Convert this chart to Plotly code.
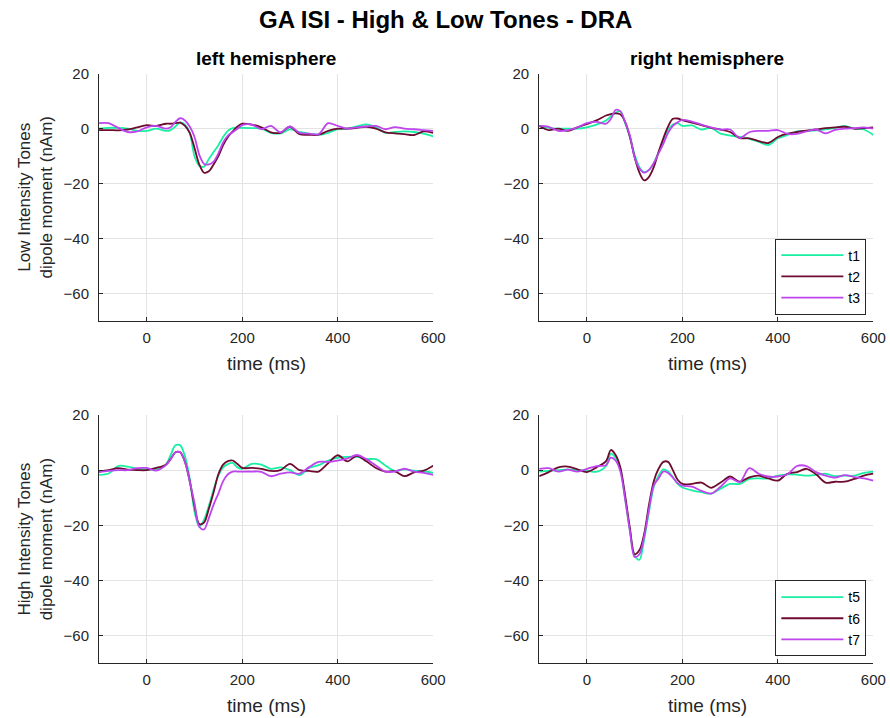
import plotly.graph_objects as go

# ---------------- data ----------------
time_ms = [-100, -80, -60, -40, -20, 0, 20, 40,
           50, 60, 70, 80, 90, 100, 110, 120, 130, 140, 150, 160, 170, 180, 190, 200,
           220, 240, 260, 280, 300, 320, 340, 360, 380, 400, 420, 440, 460, 480, 500,
           520, 540, 560, 580, 600]

# Low intensity tones, left hemisphere
low_left_t1 = [0, 0.3, 0.3, 0, -0.8, -0.8, 0, -0.8,
               -0.5, 0.8, 2.3, 1.5, -1.5, -10, -13.5, -13.8, -11, -8.5, -6, -3, -0.8, 0.2, 0.3, 0.3,
               0.2, 0, -1.5, -1.7, -0.2, -1.2, -1.8, -2.2, -1.5, -0.2, 0, 0.8, 1.6, 0.5, -1.5,
               -1.2, -1, -1.2, -1.8, -2.8]
low_left_t2 = [-0.5, -0.5, -0.6, -0.3, 0.5, 1.3, 1.0, 1.8,
               1.8, 2.0, 2.2, 1.0, -1.5, -7, -13, -16, -15.5, -13, -10, -6, -3, -1, 0.8, 1.8,
               1.5, 0.5, -1.3, -1.5, 0.7, -2, -2.2, -2.2, -0.8, 0, 0, 0.3, 0.7, 0, -1.3,
               -1.7, -2, -2.3, -1, -1.5]
low_left_t3 = [2.0, 2.0, 0.3, -1.2, -1.0, 0.5, 1.0, 0,
               0.5, 2.5, 3.8, 3.0, 0.8, -3, -9.5, -12.8, -13, -12, -9, -5, -2.5, -1.3, 0, 1.3,
               1.5, -0.2, 1, -1.3, 0.8, -1.5, -1.8, -2, 2, 1, 0, 0.5, 0.8, 1.0, -0.2,
               0.6, 0, -0.2, -0.5, -0.8]

# Low intensity tones, right hemisphere
low_right_t1 = [1, 0.3, 0, 0, 0, 0.5, 1.5, 3.0,
                4.5, 5.8, 6.3, 2, -3, -9.5, -14, -15.8, -15, -12.5, -8.5, -4.5, -0.5, 1.5, 2, 1,
                1.2, -0.3, 0.3, -1.8, -2.5, -3, -3.7, -4.8, -6, -3.5, -2.3, -1, -0.8, -0.6, -0.2,
                0.3, 1, 0, -0.3, -2.3]
low_right_t2 = [1, -0.5, 0, -0.8, 0.5, 1.7, 3, 4.8,
                5.3, 5.6, 5.2, 2.5, -3, -10.5, -16, -18.8, -17.5, -14, -8.5, -3.5, 0.8, 3.6, 3.7, 3.1,
                2.2, 1.3, 0.3, -0.3, -1.2, -3.4, -3.5, -4.5, -5.2, -3, -1.8, -1.2, -0.7, -0.3, 0.2,
                0.5, 0.7, 0, 0.2, 0.5]
low_right_t3 = [1, 0.7, -0.8, -0.5, 0.5, 2.0, 2.5, 1.8,
                3.5, 6.8, 6.3, 2.5, -2.5, -10.5, -14.5, -16, -15, -12.5, -9, -5.5, -1.5, 1, 2.3, 3.2,
                2.6, 1.5, 0.5, -0.3, -0.3, -3.4, -1.3, -0.8, -0.8, -0.5, -1.9, -1.9, -1, -0.3, -1.7,
                -0.4, 0, 0.2, 0.5, 0]

# High intensity tones, left hemisphere
high_left_t5 = [-1.7, -1.2, 1.5, 1.3, 0.5, 0.3, 0.3, 2,
                5.5, 9, 9, 5, -3, -15, -20.5, -18, -13, -7, -2, 1, 2.2, 2.6, 1, 0.5,
                2.3, 2.0, 0.5, 1.0, 0, -1.8, 0.8, 1.8, 3.5, 4.5, 4.8, 4.8, 4.0, 4.0, 1.7,
                -0.3, 0.3, -0.2, -0.4, -1]
high_left_t6 = [-0.5, 0, 0.7, 0.2, 0, 0, 0.8, 2,
                4, 6.5, 6.5, 3, -4, -13, -19.5, -19, -14, -8, -1.5, 2, 3.3, 3.5, 2.2, 0.8,
                0.8, 0.5, -0.3, 0, 2.3, 0, -0.3, -0.5, 2.5, 5.4, 3.2, 5.2, 3.2, 0.8, -0.5,
                -0.4, -2.2, -0.8, -0.2, 1.6]
high_left_t7 = [-0.7, -0.3, 0, 0, 0.7, 0.8, -0.2, 1.8,
                4, 6.5, 6.5, 3, -4, -12, -20.5, -21.5, -17.4, -12.5, -8.5, -4, -1.5, -0.5, -0.5, -0.5,
                -0.5, -0.6, -2.2, -1.3, -0.8, -1.3, 1.1, 3, 3, 3.5, 4.2, 5.5, 4, 1.7, -0.5,
                -0.5, 0.5, -0.5, -1, -1.7]

# High intensity tones, right hemisphere
high_right_t5 = [-0.5, -0.3, 0, 0.3, 0, -0.2, -0.6, 1.5,
                 6.0, 4.5, 0.5, -10.5, -22, -31, -32.5, -25, -15, -6, -2, 0.3, -0.5, -2.5, -5, -6.3,
                 -7.3, -8, -8.5, -6.7, -5, -5, -3.2, -3, -3, -2, -1.5, -1.6, -2, -1.7, -1.3,
                 -2.2, -2, -2, -1, -0.5]
high_right_t6 = [-2.2, -0.7, 1, 1.3, 0.3, -0.7, 1, 3.3,
                 7.3, 5.5, 1, -9.2, -21, -30.5, -29, -23, -12.5, -4, 0.5, 3, 3, 0, -3.5, -5,
                 -5, -4.5, -6.4, -4.5, -2.3, -4.2, -2.6, -2, -3, -3.8, -1.3, -0.7, 0.5, -1.5, -4.5,
                 -4.2, -4.2, -3.2, -2, -1.3]
high_right_t7 = [0.5, 0.7, -0.5, 0.2, -0.5, 0.5, 1.5, 1.8,
                 4.5, 3.5, -0.5, -10.5, -22, -31.5, -30.5, -24, -14, -5.5, -3, -0.5, -1, -2.7, -4.7, -5.6,
                 -6, -7.5, -8.5, -6, -3, -4.3, 0.7, -1.3, -2.3, -2.3, -1.5, 1.5, 1.5, -0.7, -2,
                 -2.7, -1.8, -2.5, -3, -3.8]

x_ticks = [0, 200, 400, 600]
y_ticks = [-60, -40, -20, 0, 20]
colors = ["#18EFA3", "#6E0B30", "#BE44EE"]

FONT = "Liberation Sans, Arial, Helvetica, sans-serif"
INK = "#262626"

# ---------------- figure ----------------
W, H = 890, 718
SCALE = 0.985   # observed render scale of the page
YOFF = 8.0      # observed vertical offset of the page

fig = go.Figure()

panels = [
    ("x", "y", [low_left_t1, low_left_t2, low_left_t3], ["t1", "t2", "t3"], None),
    ("x2", "y2", [low_right_t1, low_right_t2, low_right_t3], ["t1", "t2", "t3"], "legend"),
    ("x3", "y3", [high_left_t5, high_left_t6, high_left_t7], ["t5", "t6", "t7"], None),
    ("x4", "y4", [high_right_t5, high_right_t6, high_right_t7], ["t5", "t6", "t7"], "legend2"),
]

for xa, ya, series, names, leg in panels:
    for s, name, c in zip(series, names, colors):
        fig.add_trace(go.Scatter(
            x=time_ms, y=s, mode="lines", name=name,
            line=dict(color=c, width=1.8, shape="spline", smoothing=0.9),
            xaxis=xa, yaxis=ya,
            showlegend=leg is not None,
            legend=leg if leg else "legend",
            hoverinfo="skip",
        ))


def px_x(p):
    return (p / SCALE) / W


def px_y(p):
    return 1 - ((p - YOFF) / SCALE) / H


xdom_left = [px_x(99), px_x(433)]
xdom_right = [px_x(539), px_x(873)]
ydom_top = [px_y(319.5), px_y(72.5)]
ydom_bot = [px_y(660.5), px_y(413)]

axis_common = dict(
    showgrid=True, gridcolor="#e3e3e3", gridwidth=1,
    zeroline=False, showline=True, linecolor=INK, linewidth=1,
    ticks="inside", ticklen=4, tickcolor=INK, mirror=False,
    tickfont=dict(family=FONT, size=15, color=INK),
)

xcfg = dict(range=[-100, 600], tickvals=x_ticks, ticklabelstandoff=3, **axis_common)
ycfg = dict(range=[-70, 20], tickvals=y_ticks, ticklabelstandoff=6, **axis_common)

legend_style = dict(xanchor="right", yanchor="top",
                    bgcolor="white", bordercolor=INK, borderwidth=1,
                    font=dict(family=FONT, size=14, color="black"),
                    itemwidth=62, tracegroupgap=0)

fig.update_layout(
    width=W, height=H,
    margin=dict(l=0, r=0, t=0, b=0),
    paper_bgcolor="white", plot_bgcolor="white",
    xaxis=dict(domain=xdom_left, anchor="y", **xcfg),
    yaxis=dict(domain=ydom_top, anchor="x", **ycfg),
    xaxis2=dict(domain=xdom_right, anchor="y2", **xcfg),
    yaxis2=dict(domain=ydom_top, anchor="x2", **ycfg),
    xaxis3=dict(domain=xdom_left, anchor="y3", **xcfg),
    yaxis3=dict(domain=ydom_bot, anchor="x3", **ycfg),
    xaxis4=dict(domain=xdom_right, anchor="y4", **xcfg),
    yaxis4=dict(domain=ydom_bot, anchor="x4", **ycfg),
    legend=dict(x=px_x(866), y=px_y(237), **legend_style),
    legend2=dict(x=px_x(866), y=px_y(578), **legend_style),
    showlegend=True,
)

annotations = [
    dict(text="<b>GA ISI - High & Low Tones - DRA</b>", x=px_x(445), y=px_y(18),
         font=dict(family=FONT, size=24, color="black")),
    dict(text="<b>left hemisphere</b>", x=px_x(266), y=px_y(57),
         font=dict(family=FONT, size=19, color="black")),
    dict(text="<b>right hemisphere</b>", x=px_x(707), y=px_y(57),
         font=dict(family=FONT, size=19, color="black")),
    dict(text="time (ms)", x=px_x(266), y=px_y(362),
         font=dict(family=FONT, size=19, color=INK)),
    dict(text="time (ms)", x=px_x(707), y=px_y(362),
         font=dict(family=FONT, size=19, color=INK)),
    dict(text="time (ms)", x=px_x(266), y=px_y(703),
         font=dict(family=FONT, size=19, color=INK)),
    dict(text="time (ms)", x=px_x(707), y=px_y(703),
         font=dict(family=FONT, size=19, color=INK)),
    dict(text="Low Intensity Tones<br>dipole moment (nAm)", x=px_x(35), y=px_y(196),
         textangle=-90, font=dict(family=FONT, size=17, color=INK)),
    dict(text="High Intensity Tones<br>dipole moment (nAm)", x=px_x(35), y=px_y(537),
         textangle=-90, font=dict(family=FONT, size=17, color=INK)),
]
for a in annotations:
    a.update(xref="paper", yref="paper", showarrow=False, xanchor="center", yanchor="middle")
fig.update_layout(annotations=annotations)

fig.write_html("out.html")
